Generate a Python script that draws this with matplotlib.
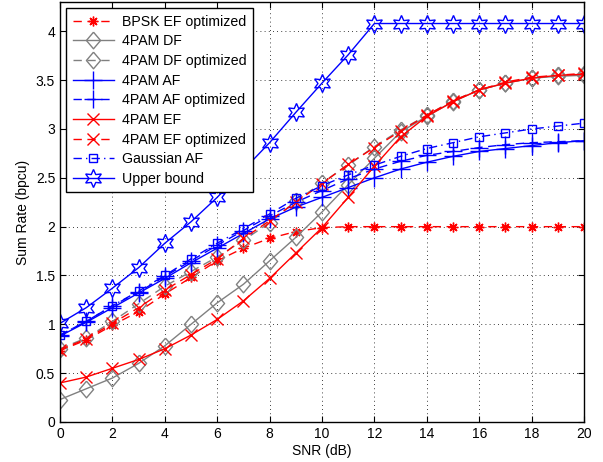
import numpy as np
import matplotlib
matplotlib.use("Agg")
import matplotlib.pyplot as plt
from matplotlib.ticker import FormatStrFormatter

plt.rcParams['font.family'] = ['Liberation Sans', 'DejaVu Sans']
plt.rcParams['font.size'] = 10

snr = np.arange(0, 21)

bpsk_ef_opt = [0.73, 0.84, 0.99, 1.13, 1.31, 1.48, 1.65, 1.78, 1.88, 1.95, 1.99,
               2.0, 2.0, 2.0, 2.0, 2.0, 2.0, 2.0, 2.0, 2.0, 2.0]
pam_df = [0.23, 0.34, 0.45, 0.60, 0.78, 1.00, 1.22, 1.41, 1.65, 1.89, 2.15,
          2.43, 2.70, 2.97, 3.13, 3.28, 3.40, 3.47, 3.52, 3.54, 3.55]
pam_df_opt = [0.75, 0.86, 1.03, 1.21, 1.39, 1.54, 1.69, 1.86, 2.04, 2.26, 2.45,
              2.63, 2.82, 2.99, 3.14, 3.29, 3.40, 3.47, 3.52, 3.55, 3.56]
pam_af = [0.88, 1.02, 1.17, 1.32, 1.47, 1.63, 1.78, 1.93, 2.08, 2.20, 2.30,
          2.40, 2.50, 2.59, 2.66, 2.72, 2.77, 2.80, 2.83, 2.86, 2.88]
pam_af_opt = [0.89, 1.03, 1.19, 1.33, 1.49, 1.65, 1.81, 1.96, 2.11, 2.25, 2.37,
              2.49, 2.59, 2.67, 2.73, 2.77, 2.81, 2.84, 2.86, 2.87, 2.88]
pam_ef = [0.40, 0.46, 0.55, 0.64, 0.75, 0.89, 1.05, 1.24, 1.47, 1.73, 1.99,
          2.30, 2.62, 2.92, 3.13, 3.28, 3.40, 3.47, 3.52, 3.55, 3.56]
pam_ef_opt = [0.74, 0.85, 1.01, 1.17, 1.35, 1.51, 1.67, 1.88, 2.06, 2.25, 2.44,
              2.64, 2.81, 2.98, 3.14, 3.29, 3.40, 3.48, 3.53, 3.55, 3.57]
gauss_af = [0.89, 1.03, 1.19, 1.34, 1.50, 1.67, 1.83, 1.98, 2.13, 2.29, 2.42,
            2.53, 2.63, 2.72, 2.80, 2.86, 2.92, 2.96, 3.00, 3.03, 3.06]
upper = [1.01, 1.17, 1.37, 1.58, 1.83, 2.05, 2.30, 2.58, 2.86, 3.17, 3.47,
         3.76, 4.08, 4.08, 4.08, 4.08, 4.08, 4.08, 4.08, 4.08, 4.08]

gray = (0.5, 0.5, 0.5)
dash = (0, (6, 4))
dashdot = (0, (6, 3, 1, 3))
hexagram = (6, 1, 0)
asterisk = (8, 2, 0)
# matlab diamond is a little taller than wide
diamond = [(0, 1), (0.85, 0), (0, -1), (-0.85, 0), (0, 1)]

fig = plt.figure(figsize=(6.03, 4.62), dpi=100)
ax = fig.add_axes([0.0995, 0.0866, 0.869, 0.909])

ax.plot(snr, bpsk_ef_opt, color='r', ls=dash, lw=1, marker=asterisk, ms=7,
        mew=1, label='BPSK EF optimized')
ax.plot(snr, pam_df, color=gray, ls='-', lw=1, marker=diamond, ms=12,
        mfc='none', mew=1, label='4PAM DF')
ax.plot(snr, pam_df_opt, color=gray, ls=dash, lw=1, marker=diamond, ms=12,
        mfc='none', mew=1, label='4PAM DF optimized')
ax.plot(snr, pam_af, color='b', ls='-', lw=1, marker='+', ms=13,
        mew=1, label='4PAM AF')
ax.plot(snr, pam_af_opt, color='b', ls=dash, lw=1, marker='+', ms=13,
        mew=1, label='4PAM AF optimized')
ax.plot(snr, pam_ef, color='r', ls='-', lw=1, marker='x', ms=9,
        mew=1, label='4PAM EF')
ax.plot(snr, pam_ef_opt, color='r', ls=dash, lw=1, marker='x', ms=9,
        mew=1, label='4PAM EF optimized')
ax.plot(snr, gauss_af, color='b', ls=dashdot, lw=1, marker='s', ms=6,
        mfc='none', mew=1, label='Gaussian AF')
ax.plot(snr, upper, color='b', ls='-', lw=1, marker=hexagram, ms=13,
        mfc='none', mew=1, label='Upper bound')

ax.set_xlim(0, 20)
ax.set_ylim(0, 4.3)
ax.set_xticks(np.arange(0, 21, 2))
ax.set_yticks(np.arange(0, 4.01, 0.5))
ax.yaxis.set_major_formatter(FormatStrFormatter('%g'))
ax.tick_params(direction='in', top=True, right=True, length=4, width=0.8,
               labelsize=10)
ax.grid(True, color='k', ls=(0, (1, 4)), lw=0.6)
for s in ax.spines.values():
    s.set_linewidth(1)

ax.set_xlabel('SNR (dB)', labelpad=2)
ax.set_ylabel('Sum Rate (bpcu)', labelpad=4)

leg = ax.legend(loc='upper left', numpoints=1, handlelength=2.9,
                handletextpad=0.6, labelspacing=0.4, borderpad=0.45,
                borderaxespad=0.45, fancybox=False, framealpha=1,
                edgecolor='k', fontsize=10.2)
leg.get_frame().set_linewidth(1)

fig.savefig('out.png', dpi=100)
